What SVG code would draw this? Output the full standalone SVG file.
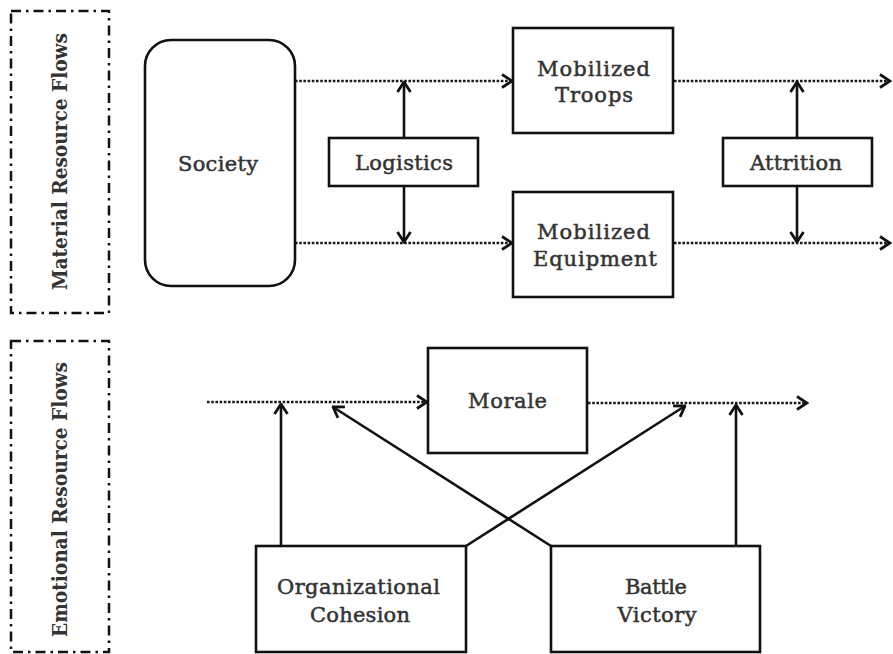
<svg xmlns="http://www.w3.org/2000/svg" width="893" height="654" viewBox="0 0 893 654">
<style>
.frame{fill:none;stroke:#111;stroke-width:2.5;stroke-dasharray:10 5 2.5 5}
.box{fill:#fff;stroke:#111;stroke-width:2.6}
.t{font-family:"DejaVu Serif","Liberation Serif",serif;font-size:21px;fill:#333;stroke:#333;stroke-width:0.5;text-anchor:middle}
.side{font-family:"DejaVu Serif","Liberation Serif",serif;font-size:20px;font-weight:bold;fill:#333;text-anchor:middle}
.dot{fill:none;stroke:#1a1a1a;stroke-width:2.6;stroke-dasharray:2.6 1.6}
.solid{fill:none;stroke:#111;stroke-width:2.6}
</style>
<defs>
<marker id="ah" viewBox="0 0 13 16" refX="11.5" refY="8" markerWidth="13" markerHeight="16" markerUnits="userSpaceOnUse" orient="auto">
<path d="M1.5,1.5 L11.5,8 L1.5,14.5" fill="none" stroke="#111" stroke-width="2.8" stroke-linejoin="miter"/>
</marker>
</defs>
<rect width="893" height="654" fill="#fff"/>

<g id="material-frame">
<rect class="frame" x="11" y="11" width="98" height="302"/>
<text class="side" transform="translate(67,161.5) rotate(-90)" textLength="257" lengthAdjust="spacingAndGlyphs">Material Resource Flows</text>
</g>
<g id="emotional-frame">
<rect class="frame" x="11" y="341" width="98" height="311"/>
<text class="side" transform="translate(67,499.5) rotate(-90)" textLength="275" lengthAdjust="spacingAndGlyphs">Emotional Resource Flows</text>
</g>

<g id="connectors">
<line class="dot" x1="295" y1="81" x2="512" y2="81" marker-end="url(#ah)"/>
<line class="dot" x1="295" y1="243" x2="512" y2="243" marker-end="url(#ah)"/>
<line class="dot" x1="674" y1="81" x2="890" y2="81" marker-end="url(#ah)"/>
<line class="dot" x1="674" y1="243" x2="890" y2="243" marker-end="url(#ah)"/>
<line class="solid" x1="404" y1="138" x2="404" y2="82" marker-end="url(#ah)"/>
<line class="solid" x1="404" y1="186" x2="404" y2="242" marker-end="url(#ah)"/>
<line class="solid" x1="797" y1="138" x2="797" y2="82" marker-end="url(#ah)"/>
<line class="solid" x1="797" y1="186" x2="797" y2="242" marker-end="url(#ah)"/>
<line class="dot" x1="207" y1="402" x2="427" y2="402" marker-end="url(#ah)"/>
<line class="dot" x1="588" y1="403" x2="807" y2="403" marker-end="url(#ah)"/>
<line class="solid" x1="281" y1="546" x2="281" y2="404" marker-end="url(#ah)"/>
<line class="solid" x1="466" y1="546" x2="685" y2="406" marker-end="url(#ah)"/>
<line class="solid" x1="736" y1="546" x2="736" y2="405" marker-end="url(#ah)"/>
<line class="solid" x1="551" y1="546" x2="333" y2="407" marker-end="url(#ah)"/>
</g>

<g id="society">
<rect class="box" x="145" y="40" width="150" height="246" rx="26" ry="26"/>
<text class="t" x="218" y="171" textLength="80">Society</text>
</g>
<g id="logistics">
<rect class="box" x="329" y="138" width="149" height="48"/>
<text class="t" x="404" y="170" textLength="98">Logistics</text>
</g>
<g id="attrition">
<rect class="box" x="723" y="138" width="149" height="48"/>
<text class="t" x="796" y="170" textLength="92">Attrition</text>
</g>
<g id="mobilized-troops">
<rect class="box" x="513" y="28" width="160" height="105"/>
<text class="t" x="593.5" y="76" textLength="113">Mobilized</text>
<text class="t" x="594" y="102" textLength="78">Troops</text>
</g>
<g id="mobilized-equipment">
<rect class="box" x="513" y="192" width="160" height="105"/>
<text class="t" x="593.5" y="239" textLength="113">Mobilized</text>
<text class="t" x="595" y="266" textLength="124">Equipment</text>
</g>
<g id="morale">
<rect class="box" x="428" y="348" width="159" height="105"/>
<text class="t" x="507.5" y="408" textLength="79">Morale</text>
</g>
<g id="organizational-cohesion">
<rect class="box" x="256" y="546" width="210" height="106"/>
<text class="t" x="358.5" y="594" textLength="163">Organizational</text>
<text class="t" x="360" y="622" textLength="100">Cohesion</text>
</g>
<g id="battle-victory">
<rect class="box" x="551" y="546" width="209" height="106"/>
<text class="t" x="656" y="594" textLength="62">Battle</text>
<text class="t" x="657" y="622" textLength="79">Victory</text>
</g>
</svg>
